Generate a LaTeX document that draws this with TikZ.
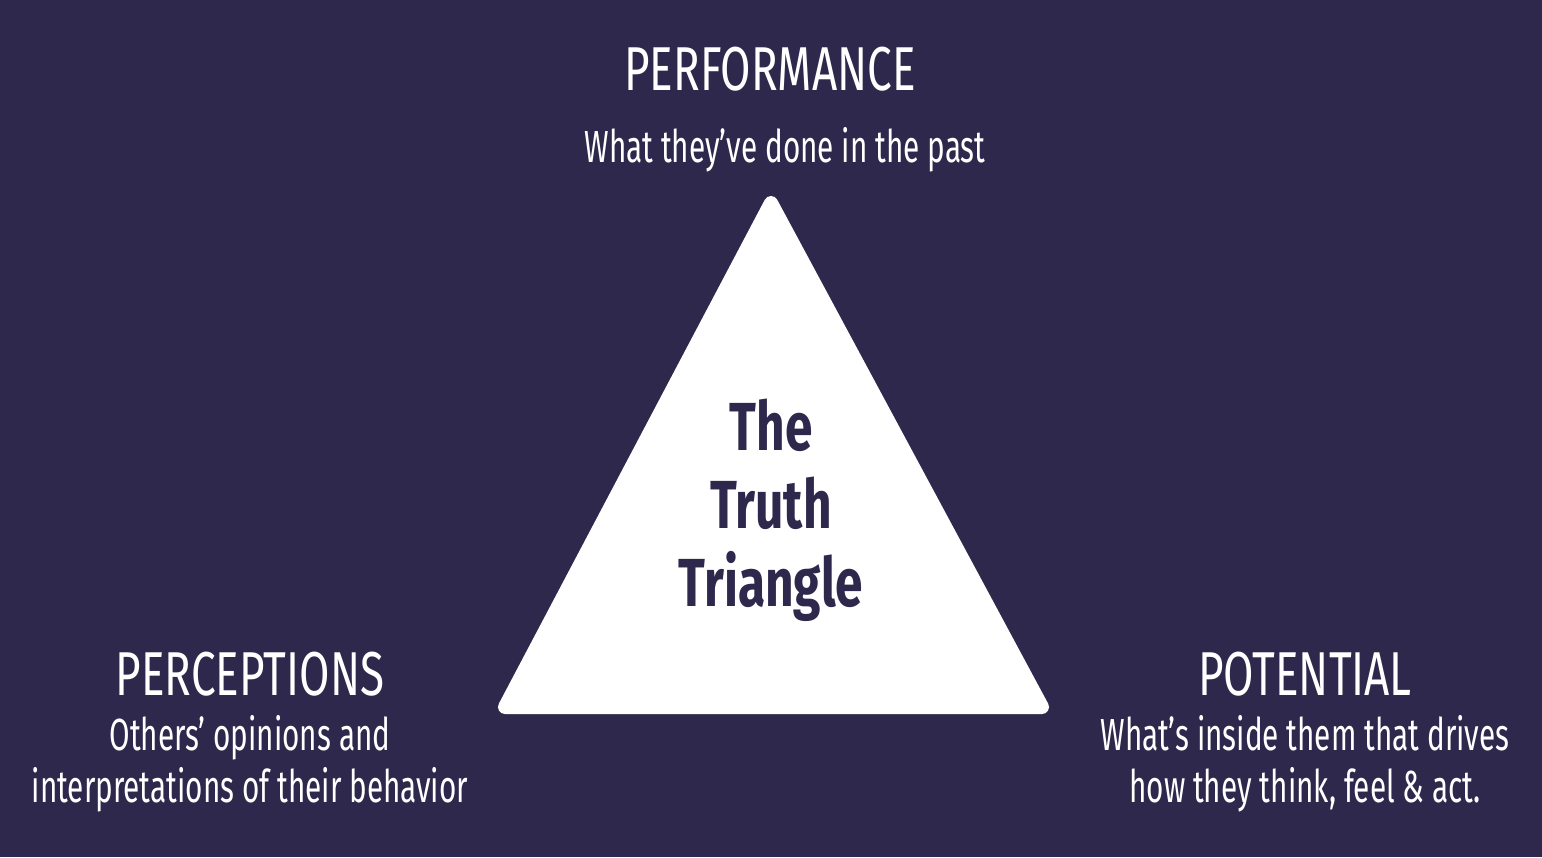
\documentclass[tikz,border=0pt]{standalone}
\usepackage{fontspec}
\setmainfont[FakeStretch=0.66]{Fira Sans}
\newfontfamily\titlef[FakeStretch=0.71]{Fira Sans}
\newfontfamily\boldc[FakeStretch=0.73]{Fira Sans Bold}
\definecolor{bg}{HTML}{2E294C}
\begin{document}
\begin{tikzpicture}[x=1pt,y=-1pt,
  title/.style={text=white,font=\titlef\fontsize{62}{62}\selectfont,anchor=base},
  sub/.style={text=white,font=\fontsize{45}{52}\selectfont,align=center,anchor=north,inner sep=0pt}]
\fill[bg] (0,0) rectangle (1542,857);
\useasboundingbox (0,0) rectangle (1542,857);
\fill[white,draw=white,line width=14pt,line join=round] (771,203) -- (1042,707) -- (505,707) -- cycle;
\node[title] (perf) at (770,90) {PERFORMANCE};
\node[sub,anchor=base] (perfs) at (785,162) {What they’ve done in the past};
\node[title] (perc) at (250,695) {PERCEPTIONS};
\node[sub] (percs) at (250,715) {Others’ opinions and\\interpretations of their behavior};
\node[title] (pot) at (1305,695) {POTENTIAL};
\node[sub] (pots) at (1305,715) {What’s inside them that drives\\how they think, feel \& act.};
\node[text=bg,font=\boldc\fontsize{68}{78}\selectfont,align=center] (ctr) at (771,510) {The\\Truth\\Triangle};
\end{tikzpicture}
\end{document}
